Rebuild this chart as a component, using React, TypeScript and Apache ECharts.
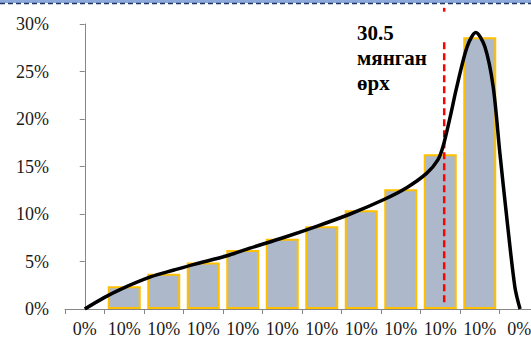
import { useEffect, useRef } from "react";
import * as echarts from "echarts";

const categories = ["0%", "10%", "10%", "10%", "10%", "10%", "10%", "10%", "10%", "10%", "10%", "0%"];
const barValues = [null, 2.4, 3.7, 4.9, 6.2, 7.4, 8.7, 10.4, 12.6, 16.3, 28.6, null];
const curveX = [0, 0.49, 0.92, 1.68, 2.26, 2.77, 3.6, 4.18, 5.02, 5.87, 6.72, 7.56, 8.16, 8.66, 8.94, 9.07, 9.25, 9.42, 9.68, 9.9, 10.13, 10.34, 10.51, 10.69, 10.89, 11.02];
const curveY = [0, 1.2, 2.1, 3.4, 4.1, 4.7, 5.6, 6.4, 7.5, 8.7, 10.0, 11.5, 12.8, 14.3, 15.7, 17.1, 20.2, 23.4, 27.6, 29.1, 27.6, 23.4, 16.4, 9.4, 2.3, 0];
const markerX = 9.1;
const markerRange = [0.7, 28.1];
const markerTopDash = [31.3, 31.7];
const markerLabel = ["30.5", "мянган", "өрх"];
const yMin = 0;
const yMax = 30;
const yInterval = 5;

export default function App() {
  const ref = useRef<HTMLDivElement>(null);
  useEffect(() => {
    if (!ref.current) return;
    const chart = echarts.init(ref.current, null, { renderer: "svg" });
    const font = "Liberation Serif";
    chart.setOption({
      animation: false,
      backgroundColor: "#ffffff",
      grid: { left: 65, top: 24, right: 0, bottom: 29 },
      xAxis: [
        {
          type: "category",
          data: categories,
          boundaryGap: true,
          axisLine: { show: true, lineStyle: { color: "#868686", width: 1 } },
          axisTick: { show: true, length: 5, lineStyle: { color: "#868686" } },
          axisLabel: { color: "#1a1a1a", fontFamily: font, fontSize: 18, margin: 11, interval: 0 },
        },
        { type: "value", min: -0.5, max: 11.5, show: false },
      ],
      yAxis: {
        type: "value",
        min: yMin,
        max: yMax,
        interval: yInterval,
        axisLine: { show: true, lineStyle: { color: "#868686", width: 1 } },
        axisTick: { show: true, length: 5, lineStyle: { color: "#868686" } },
        splitLine: { show: false },
        axisLabel: { color: "#1a1a1a", fontFamily: font, fontSize: 18, margin: 16, formatter: "{value}%" },
      },
      series: [
        {
          type: "bar",
          data: barValues,
          barWidth: 33,
          itemStyle: { color: "#ADB9CA", borderColor: "#FFC000", borderWidth: 2 },
          z: 2,
        },
        {
          type: "line",
          xAxisIndex: 1,
          data: curveX.map((x, i) => [x, curveY[i]]),
          smooth: 0.3,
          showSymbol: false,
          lineStyle: { color: "#000000", width: 3.5 },
          z: 4,
        },
        {
          type: "line",
          xAxisIndex: 1,
          data: markerRange.map((v) => [markerX, v]),
          showSymbol: false,
          lineStyle: { color: "#FF0000", width: 2.5, type: [7, 4] },
          z: 3,
        },
        {
          type: "line",
          xAxisIndex: 1,
          clip: false,
          data: markerTopDash.map((v) => [markerX, v]),
          showSymbol: false,
          lineStyle: { color: "#FF0000", width: 2.5 },
          z: 3,
        },
      ],
      graphic: [
        { type: "rect", left: 0, top: 0, shape: { x: 0, y: 0, width: 539, height: 3 }, style: { fill: "#8EA9DB" } },
        {
          type: "line",
          shape: { x1: 0, y1: 3.5, x2: 539, y2: 3.5 },
          style: { stroke: "#1F3864", lineWidth: 1.5, lineDash: [5, 3] },
        },
        ...markerLabel.map((t, i) => ({
          type: "text",
          x: 357,
          y: 22 + i * 25,
          style: {
            text: t,
            fontFamily: font,
            fontWeight: "bold",
            fontSize: 21,
            fill: "#000000",
            verticalAlign: "top",
          },
        })),
      ],
    });
    return () => chart.dispose();
  }, []);
  return (
    <div style={{ position: "fixed", left: 0, top: 0, width: 531, height: 338, overflow: "hidden" }}>
      <div ref={ref} style={{ width: 539, height: 338 }} />
    </div>
  );
}
